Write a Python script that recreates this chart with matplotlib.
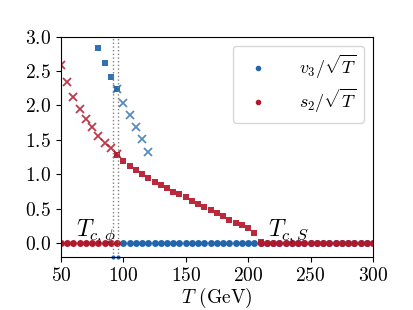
import numpy as np
import matplotlib
matplotlib.use('Agg')
import matplotlib.pyplot as plt

plt.rcParams['font.family'] = 'serif'
plt.rcParams['font.serif'] = ['cmr10']
plt.rcParams['mathtext.fontset'] = 'cm'
plt.rcParams['axes.formatter.use_mathtext'] = True
plt.rcParams['axes.unicode_minus'] = False
plt.rcParams['font.size'] = 14

blue = '#2166ac'
red = '#b2182b'

# v3 phase: global minimum (squares) and metastable (crosses)
T_v3_glob = [80, 85, 90, 95]
v3_glob = [2.84, 2.61, 2.42, 2.24]
T_v3_meta = [95, 100, 105, 110, 115, 120]
v3_meta = [2.24, 2.04, 1.86, 1.69, 1.51, 1.32]

# s2 phase: metastable (crosses) and global minimum (squares)
T_s2_meta = [50, 55, 60, 65, 70, 75, 80, 85, 90, 95]
s2_meta = [2.59, 2.34, 2.13, 1.95, 1.80, 1.68, 1.56, 1.46, 1.38, 1.30]
T_s2_glob = [95, 100, 105, 110, 115, 120, 125, 130, 135, 140, 145, 150,
             155, 160, 165, 170, 175, 180, 185, 190, 195, 200, 205, 210]
s2_glob = [1.28, 1.20, 1.12, 1.06, 1.00, 0.94, 0.89, 0.85, 0.80, 0.75, 0.71, 0.67,
           0.62, 0.57, 0.53, 0.48, 0.44, 0.39, 0.34, 0.30, 0.26, 0.22, 0.145, 0.02]

# vanishing fields
T_s2_zero_low = [50, 55, 60, 65, 70, 75, 80, 85, 90, 95]
T_v3_zero = [100, 105, 110, 115, 120, 125, 130, 135, 140, 145, 150, 155,
             160, 165, 170, 175, 180, 185, 190, 195, 200, 205]
T_zero_high = [210, 215, 220, 225, 230, 235, 240, 245, 250, 255, 260, 265,
               270, 275, 280, 285, 290, 295, 300]

Tc_phi = [92.0, 95.5]

fig = plt.figure(figsize=(4.14, 3.10), dpi=100)
ax = fig.add_axes([0.147, 0.171, 0.754, 0.711])

ms = 5.0
ax.plot(T_v3_zero, np.zeros(len(T_v3_zero)), 'o', color=blue, ms=ms, mew=0)
ax.plot(T_zero_high, np.zeros(len(T_zero_high)), 'o', color=blue, ms=ms, mew=0)
ax.plot(T_zero_high, np.zeros(len(T_zero_high)), 'o', color=red, ms=ms, mew=0)
ax.plot(T_s2_zero_low, np.zeros(len(T_s2_zero_low)), 'o', color=red, ms=ms, mew=0)

ax.plot(T_s2_glob, s2_glob, 's', color=red, ms=ms, mew=0, alpha=0.92)
ax.plot(T_v3_glob, v3_glob, 's', color=blue, ms=ms, mew=0, alpha=0.92)
ax.plot(T_s2_meta, s2_meta, 'x', color=red, ms=5.5, mew=1.3, alpha=0.85)
ax.plot(T_v3_meta, v3_meta, 'x', color=blue, ms=5.5, mew=1.3, alpha=0.75)

for t in Tc_phi:
    ax.axvline(t, color='grey', ls=':', lw=1.0)
ax.plot(Tc_phi, [-0.2, -0.2], 'o', color=blue, ms=3, mew=0, clip_on=False)

ax.text(62, 0.1, r'$T_{c,\phi}$', fontsize=17)
ax.text(216, 0.1, r'$T_{c,S}$', fontsize=17)

# legend handles
ax.plot([], [], '.', color=blue, label=r'$v_3/\sqrt{T}$')
ax.plot([], [], '.', color=red, label=r'$s_2/\sqrt{T}$')
ax.legend(loc='upper right', handletextpad=1.3, fontsize=13, borderpad=0.4,
          labelspacing=0.35)

ax.set_xlim(50, 300)
ax.set_ylim(-0.2, 3.0)
ax.set_yticks([0.0, 0.5, 1.0, 1.5, 2.0, 2.5, 3.0])
ax.set_xlabel(r'$T$ (GeV)', labelpad=1)

fig.savefig('out.png', dpi=100)
